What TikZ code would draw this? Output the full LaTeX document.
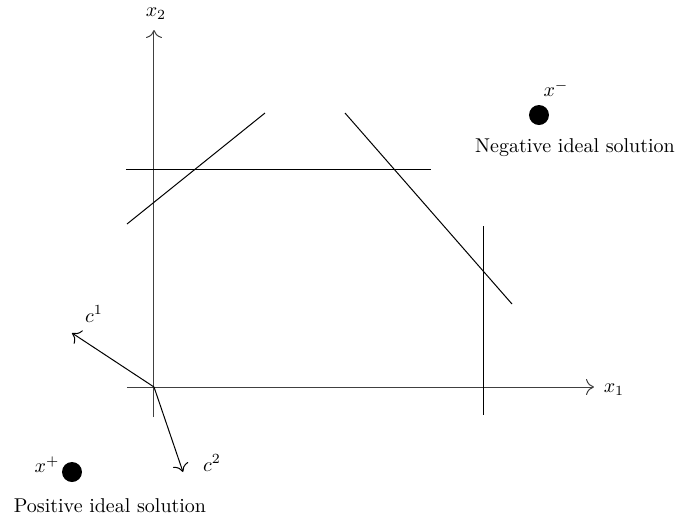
\documentclass[tikz,border=0pt]{standalone}
\usetikzlibrary{arrows.meta}
\begin{document}
\begin{tikzpicture}[x=0.5pt, y=-0.5pt, line width=0.5pt,
    axis/.style={draw=black!75},
    cline/.style={draw=black},
    idealdot/.style={circle, fill=black, inner sep=0pt, minimum size=10pt},
    lbl/.style={inner sep=1pt, font=\normalsize}]
    \useasboundingbox (0,0) rectangle (677,516);

    % Axes
    \coordinate (origin) at (154,387);
    \coordinate (x1start) at (127,387);
    \coordinate (x1end) at (594,387);
    \coordinate (x2start) at (154,417);
    \coordinate (x2end) at (154,30);
    \draw[axis, -{To[length=4pt, width=8pt]}] (x1start) -- (x1end);
    \draw[axis, -{To[length=4pt, width=8pt]}] (x2start) -- (x2end);
    \node[lbl] (x1label) at (614,390) {$x_1$};
    \node[lbl] (x2label) at (156,14) {$x_2$};

    % Constraint lines
    \coordinate (h1) at (126,169);
    \coordinate (h2) at (431,169);
    \coordinate (d1a) at (127,224);
    \coordinate (d1b) at (265,113);
    \coordinate (d2a) at (345,113);
    \coordinate (d2b) at (512,304);
    \coordinate (v1) at (484,226);
    \coordinate (v2) at (484,415);
    \draw[cline] (h1) -- (h2);
    \draw[cline] (d1a) -- (d1b);
    \draw[cline] (d2a) -- (d2b);
    \draw[cline] (v1) -- (v2);

    % Objective directions
    \coordinate (c1end) at (72,333);
    \coordinate (c2end) at (183,472);
    \draw[cline, -{To[length=4pt, width=8pt]}] (origin) -- (c1end);
    \draw[cline, -{To[length=4pt, width=8pt]}] (origin) -- (c2end);
    \node[lbl] (c1label) at (94,314) {$c^1$};
    \node[lbl] (c2label) at (212,463) {$c^2$};

    % Ideal solutions
    \node[idealdot] (xplus) at (72,472) {};
    \node[lbl] (xpluslabel) at (47,465) {$x^{+}$};
    \node[lbl] (poslabel) at (110,506) {Positive ideal solution};
    \node[idealdot] (xminus) at (539,115) {};
    \node[lbl] (xminuslabel) at (556,89) {$x^{-}$};
    \node[lbl] (neglabel) at (575,148) {Negative ideal solution};
\end{tikzpicture}
\end{document}
